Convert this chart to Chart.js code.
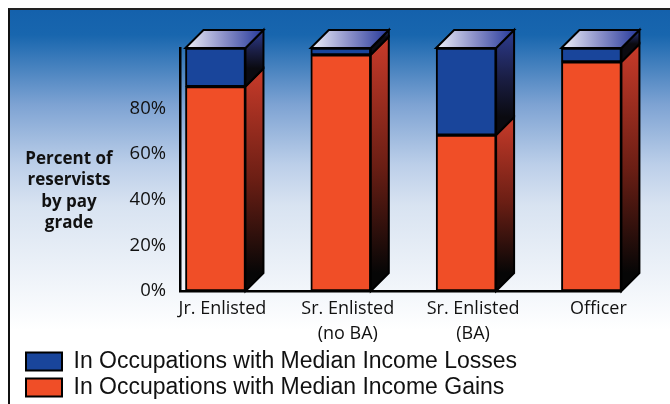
<!DOCTYPE html>
<html>
<head>
<meta charset="utf-8">
<script src="https://cdn.jsdelivr.net/npm/chart.js@4.4.1/dist/chart.umd.min.js"></script>
<style>
html, body { margin: 0; padding: 0; background: #fff; }
#wrap { position: relative; width: 670px; height: 404px; overflow: hidden; }
#frame {
    position: absolute; left: 8px; top: 8px; width: 700px; height: 420px;
    border-top: 2px solid #222; border-left: 2px solid #111;
    background: linear-gradient(to bottom, #1461ac 0px, #1866ae 25px, #7ea3d3 95px, #bccfe9 155px, #d8e3f1 195px, #f4f7fb 285px, #ffffff 320px);
}
#cnv { position: absolute; left: 0; top: 0; }
</style>
</head>
<body>
<div id="wrap"><div id="frame"></div><canvas id="cnv" width="670" height="404"></canvas></div>
<script>
(function(){

    // values read against the printed axis (0% .. 80%)
    var grades = [['Jr. Enlisted'], ['Sr. Enlisted', '(no BA)'], ['Sr. Enlisted', '(BA)'], ['Officer']];
    var gains = [89.6, 103.5, 68.3, 100.4];
    var losses = [16.9, 3.0, 38.2, 6.1];
    var seriesNames = ['In Occupations with Median Income Gains', 'In Occupations with Median Income Losses'];
    var yTitle = ['Percent of', 'reservists', 'by pay', 'grade'];

    var frontColors = ['#f04e27', '#19459b'];
    var sideColors = [['#c93b2a', '#6a1e14', '#060606'], ['#2d3c90', '#1a1e44', '#0a0a10']];
    var depth = 18;

    function pts(arr){
        return arr.map(function(v, i){ return {x: i, y: v}; });
    }

    // side + top faces for the 3D look
    var threeD = {
        id: 'threeD',
        afterDatasetsDraw: function(chart){
            var ctx = chart.ctx;
            var metas = chart.getSortedVisibleDatasetMetas();
            ctx.save();
            ctx.lineWidth = 2;
            ctx.strokeStyle = '#000';
            metas.forEach(function(meta, di){
                meta.data.forEach(function(bar){
                    var p = bar.getProps(['x', 'y', 'base', 'width'], true);
                    var l = p.x - p.width / 2, r = p.x + p.width / 2;
                    var t = Math.min(p.y, p.base), b = Math.max(p.y, p.base);
                    if (b - t < 0.5) return;
                    var g = ctx.createLinearGradient(0, t - depth, 0, b - depth);
                    g.addColorStop(0, sideColors[di][0]);
                    g.addColorStop(0.55, sideColors[di][1]);
                    g.addColorStop(1, sideColors[di][2]);
                    ctx.beginPath();
                    ctx.moveTo(r, t);
                    ctx.lineTo(r + depth, t - depth);
                    ctx.lineTo(r + depth, b - depth);
                    ctx.lineTo(r, b);
                    ctx.closePath();
                    ctx.fillStyle = g;
                    ctx.fill();
                    ctx.stroke();
                    if (di === metas.length - 1) {
                        var tg = ctx.createLinearGradient(l, 0, r + depth, 0);
                        tg.addColorStop(0, '#eef0f9');
                        tg.addColorStop(0.5, '#8a8fc8');
                        tg.addColorStop(1, '#24389a');
                        ctx.beginPath();
                        ctx.moveTo(l, t);
                        ctx.lineTo(l + depth, t - depth);
                        ctx.lineTo(r + depth, t - depth);
                        ctx.lineTo(r, t);
                        ctx.closePath();
                        ctx.fillStyle = tg;
                        ctx.fill();
                        ctx.stroke();
                    }
                });
            });
            ctx.restore();
        }
    };

    // horizontal y-axis title at the left
    var sideTitle = {
        id: 'sideTitle',
        afterDraw: function(chart){
            var ctx = chart.ctx, a = chart.chartArea;
            ctx.save();
            ctx.font = 'bold 17px "Open Sans"';
            ctx.fillStyle = '#111';
            ctx.textAlign = 'center';
            ctx.textBaseline = 'middle';
            yTitle.forEach(function(line, i){
                ctx.fillText(line, a.left - 111, a.top + 111 + i * 21.5);
            });
            ctx.restore();
        }
    };

    var data = {
        datasets: [
            {
                label: seriesNames[0],
                data: pts(gains),
                backgroundColor: frontColors[0],
                borderColor: '#000',
                borderWidth: 2,
                borderSkipped: false
            },
            {
                label: seriesNames[1],
                data: pts(losses),
                backgroundColor: frontColors[1],
                borderColor: '#000',
                borderWidth: 2,
                borderSkipped: false
            }]
    };

    var opt = {
        responsive: false,
        animation: false,
        barThickness: 60,
        layout: { padding: { top: 48, left: 23, right: 49, bottom: -5 } },
        scales: {
            x: {
                type: 'linear',
                stacked: true,
                offset: false,
                min: -0.283,
                max: 3.236,
                grid: { display: false, drawTicks: false },
                border: { display: true, color: '#000', width: 2.5 },
                afterBuildTicks: function(s){
                    s.ticks = grades.map(function(g, i){ return {value: i}; });
                },
                afterFit: function(s){ s.height = 56; },
                ticks: {
                    autoSkip: false,
                    maxRotation: 0,
                    padding: 6,
                    labelOffset: 7,
                    color: '#111',
                    font: { family: '"Open Sans"', size: 18, lineHeight: 1.35 },
                    callback: function(v){ return grades[v]; }
                }
            },
            y: {
                stacked: true,
                min: 0,
                max: 106.5,
                grid: { display: false, drawTicks: false },
                border: { display: true, color: '#000', width: 2.5 },
                afterFit: function(s){ s.width = 157; },
                ticks: {
                    stepSize: 20,
                    padding: 14,
                    color: '#111',
                    font: { family: '"Open Sans"', size: 18.5 },
                    callback: function(v){ return v <= 80 ? v + '%' : ''; }
                }
            }
        },
        plugins: {
            tooltip: { enabled: false },
            legend: {
                position: 'bottom',
                align: 'start',
                reverse: true,
                labels: {
                    boxWidth: 36,
                    boxHeight: 18,
                    padding: 3,
                    color: '#111',
                    font: { family: '"Liberation Sans", Arial', size: 23 }
                }
            }
        }
    };

    new Chart(document.getElementById('cnv'), {
        type: 'bar',
        data: data,
        options: opt,
        plugins: [threeD, sideTitle]
    });

})();
</script>
</body>
</html>
